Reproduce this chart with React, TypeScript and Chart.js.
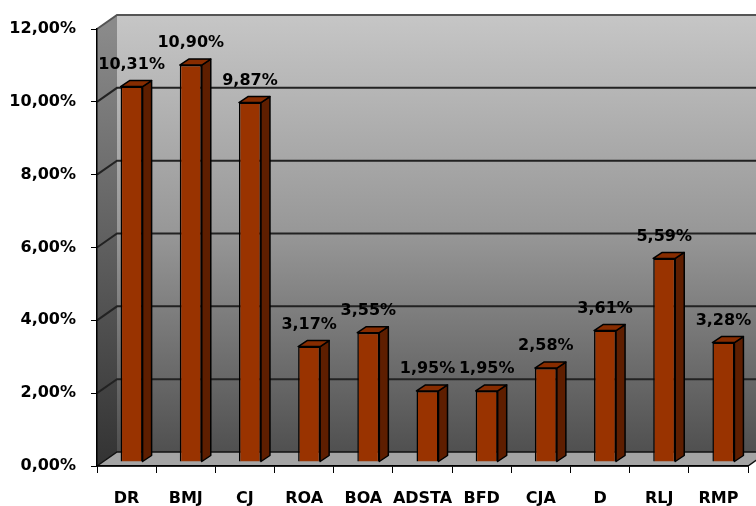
import React, { useEffect, useRef } from "react";
import { Chart, registerables } from "chart.js";

Chart.register(...registerables);

const CATEGORIES = ["DR", "BMJ", "CJ", "ROA", "BOA", "ADSTA", "BFD", "CJA", "D", "RLJ", "RMP"];
const VALUES = [10.31, 10.9, 9.87, 3.17, 3.55, 1.95, 1.95, 2.58, 3.61, 5.59, 3.28];
const Y_MIN = 0;
const Y_MAX = 12;
const Y_STEP = 2;

const fmt = (v: number) => v.toFixed(2).replace(".", ",") + "%";

const FONT = "'DejaVu Sans', Verdana, sans-serif";
const WALL_DX = 20;
const WALL_DY = -14;
const BAR_SHIFT_X = 5;
const BAR_SHIFT_Y = -4;
const BAR_DX = 9;
const BAR_DY = -6;

const threeD = {
  id: "threeD",
  beforeDraw(chart: any) {
    const { ctx, chartArea, scales } = chart;
    const { left, right, top, bottom } = chartArea;
    const y = scales.y;
    ctx.save();
    // back wall
    const bg = ctx.createLinearGradient(0, top + WALL_DY, 0, bottom + WALL_DY);
    bg.addColorStop(0, "#c6c6c6");
    bg.addColorStop(0.5, "#979797");
    bg.addColorStop(1, "#505050");
    ctx.fillStyle = bg;
    ctx.fillRect(left + WALL_DX, top + WALL_DY, right - left + 40, bottom - top);
    // left wall
    const lg = ctx.createLinearGradient(0, top, 0, bottom);
    lg.addColorStop(0, "#8a8a8a");
    lg.addColorStop(1, "#333333");
    ctx.fillStyle = lg;
    ctx.beginPath();
    ctx.moveTo(left, top);
    ctx.lineTo(left + WALL_DX, top + WALL_DY);
    ctx.lineTo(left + WALL_DX, bottom + WALL_DY);
    ctx.lineTo(left, bottom);
    ctx.closePath();
    ctx.fill();
    // gridlines
    ctx.lineWidth = 2;
    y.ticks.forEach((t: any) => {
      if (t.value <= Y_MIN) return;
      const py = y.getPixelForValue(t.value);
      ctx.strokeStyle = t.value >= Y_MAX ? "#555" : "#222";
      ctx.beginPath();
      ctx.moveTo(left, py);
      ctx.lineTo(left + WALL_DX, py + WALL_DY);
      ctx.lineTo(right + WALL_DX + 20, py + WALL_DY);
      ctx.stroke();
    });
    // floor
    ctx.fillStyle = "#a4a4a4";
    ctx.strokeStyle = "#111";
    ctx.lineWidth = 1.5;
    ctx.beginPath();
    ctx.moveTo(left, bottom);
    ctx.lineTo(left + WALL_DX, bottom + WALL_DY);
    ctx.lineTo(right + WALL_DX, bottom + WALL_DY);
    ctx.lineTo(right, bottom);
    ctx.closePath();
    ctx.fill();
    ctx.stroke();
    ctx.restore();
  },
  beforeDatasetsDraw(chart: any) {
    chart.ctx.save();
    chart.ctx.translate(BAR_SHIFT_X, BAR_SHIFT_Y);
  },
  afterDatasetsDraw(chart: any) {
    const { ctx } = chart;
    const meta = chart.getDatasetMeta(0);
    ctx.lineWidth = 1.5;
    ctx.strokeStyle = "#000";
    ctx.lineJoin = "round";
    meta.data.forEach((el: any) => {
      const { x, y, base, width } = el.getProps(["x", "y", "base", "width"], true);
      const l = x - width / 2;
      const r = x + width / 2;
      // side
      ctx.fillStyle = "#5e1e00";
      ctx.beginPath();
      ctx.moveTo(r, y);
      ctx.lineTo(r + BAR_DX, y + BAR_DY);
      ctx.lineTo(r + BAR_DX, base + BAR_DY);
      ctx.lineTo(r, base);
      ctx.closePath();
      ctx.fill();
      ctx.stroke();
      // top
      ctx.fillStyle = "#872c00";
      ctx.beginPath();
      ctx.moveTo(l, y);
      ctx.lineTo(l + BAR_DX, y + BAR_DY);
      ctx.lineTo(r + BAR_DX, y + BAR_DY);
      ctx.lineTo(r, y);
      ctx.closePath();
      ctx.fill();
      ctx.stroke();
    });
    ctx.restore();
    // labels
    ctx.save();
    ctx.fillStyle = "#000";
    ctx.font = `bold 16px ${FONT}`;
    ctx.textAlign = "center";
    ctx.textBaseline = "middle";
    meta.data.forEach((el: any, i: number) => {
      const { x, y } = el.getProps(["x", "y"], true);
      ctx.fillText(fmt(VALUES[i]), x + BAR_SHIFT_X, y + BAR_SHIFT_Y - 22);
    });
    ctx.restore();
  },
};

export default function App() {
  const ref = useRef<HTMLCanvasElement | null>(null);
  useEffect(() => {
    if (!ref.current) return;
    const chart = new Chart(ref.current, {
      type: "bar",
      data: {
        labels: CATEGORIES,
        datasets: [
          {
            data: VALUES,
            backgroundColor: "#993300",
            borderColor: "#000",
            borderWidth: 1.5,
            categoryPercentage: 1,
            barPercentage: 0.372,
          },
        ],
      },
      options: {
        responsive: false,
        animation: false,
        devicePixelRatio: 1,
        layout: { padding: { top: 29, right: 8, left: 0, bottom: 0 } },
        plugins: { legend: { display: false }, tooltip: { enabled: false } },
        scales: {
          x: {
            afterFit: (s: any) => {
              s.height = 40;
            },
            grid: { drawOnChartArea: false, drawTicks: true, tickLength: 7, color: "#000", offset: true },
            border: { display: true, color: "#000", width: 1.5 },
            ticks: { color: "#000", font: { family: FONT, size: 16, weight: "bold" }, padding: 16, maxRotation: 0, autoSkip: false },
          },
          y: {
            min: Y_MIN,
            max: Y_MAX,
            afterFit: (s: any) => {
              s.width = 97;
            },
            grid: { drawOnChartArea: false, drawTicks: true, tickLength: 6, color: "#000" },
            border: { display: true, color: "#000", width: 1.5 },
            ticks: {
              stepSize: Y_STEP,
              color: "#000",
              padding: 15,
              font: { family: FONT, size: 16, weight: "bold" },
              callback: (v: any) => fmt(Number(v)),
            },
          },
        },
      },
      plugins: [threeD],
    });
    return () => chart.destroy();
  }, []);
  return (
    <div style={{ position: "fixed", left: 0, top: 0, width: 756, height: 506, background: "#fff" }}>
      <canvas ref={ref} width={756} height={506} />
    </div>
  );
}
